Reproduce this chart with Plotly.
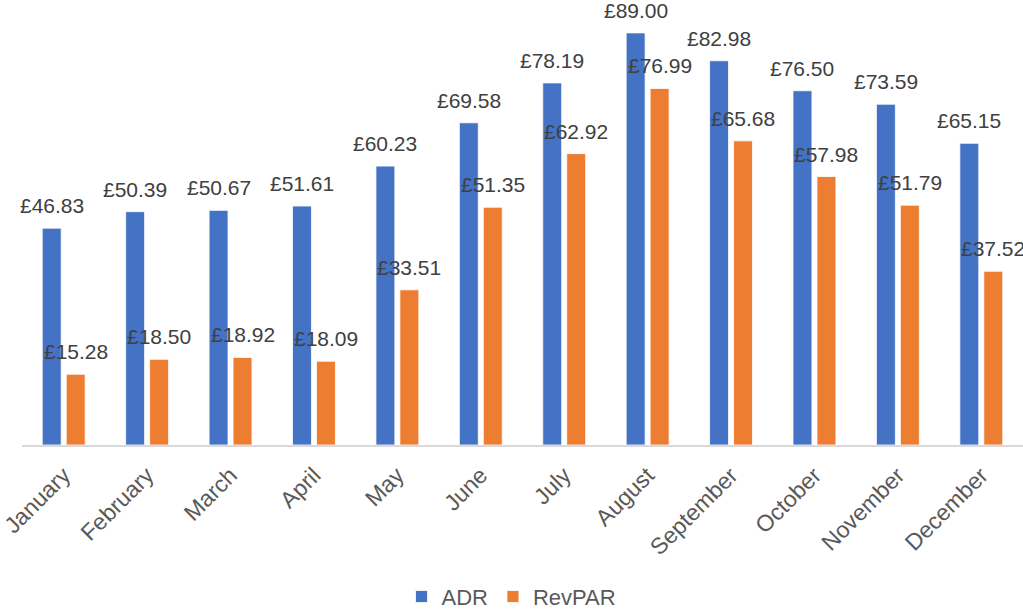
import plotly.graph_objects as go

months = ["January", "February", "March", "April", "May", "June", "July",
          "August", "September", "October", "November", "December"]
adr = [46.83, 50.39, 50.67, 51.61, 60.23, 69.58, 78.19, 89.00, 82.98, 76.50, 73.59, 65.15]
revpar = [15.28, 18.50, 18.92, 18.09, 33.51, 51.35, 62.92, 76.99, 65.68, 57.98, 51.79, 37.52]

FONT = "Liberation Sans, Arial, sans-serif"
BLUE = "#4472C4"
ORANGE = "#ED7D31"

fig = go.Figure()
fig.add_trace(go.Bar(name="ADR", x=months, y=adr, marker=dict(color=BLUE, line=dict(color="white", width=0.8))))
fig.add_trace(go.Bar(name="RevPAR", x=months, y=revpar, marker=dict(color=ORANGE, line=dict(color="white", width=0.8))))

annotations = []
for series, shift in ((adr, -12), (revpar, 12)):
    for m, v in zip(months, series):
        annotations.append(dict(
            x=m, y=v, xref="x", yref="y", text=f"£{v:.2f}", showarrow=False,
            xshift=shift, yshift=9, yanchor="bottom", xanchor="center",
            font=dict(family=FONT, size=21, color="#404040"),
        ))

fig.update_layout(
    width=1023, height=612,
    margin=dict(l=22, r=0, t=0, b=167, autoexpand=False),
    paper_bgcolor="white", plot_bgcolor="white",
    barmode="group", bargap=0.425, bargroupgap=0.21,
    font=dict(family=FONT, size=20, color="#595959"),
    annotations=annotations,
    showlegend=True,
    hovermode=False,
    legend=dict(orientation="h", x=0.5, xanchor="center", xref="container",
                y=0.025, yanchor="middle", yref="container",
                font=dict(family=FONT, size=22, color="#595959"),
                itemwidth=30, tracegroupgap=0),
    xaxis=dict(type="category", range=[-0.5, 11.5], tickangle=-45, automargin=False,
               showline=True, linecolor="#D9D9D9", linewidth=1.5,
               ticks="", showgrid=False, ticklabelstandoff=6,
               tickfont=dict(family=FONT, size=23, color="#595959")),
    yaxis=dict(range=[0, 96.1], visible=False, showgrid=False, zeroline=False, automargin=False),
)

fig.write_html("out.html", config={"displayModeBar": False},
               post_script="document.body.style.margin='0';document.body.style.overflow='hidden';")
